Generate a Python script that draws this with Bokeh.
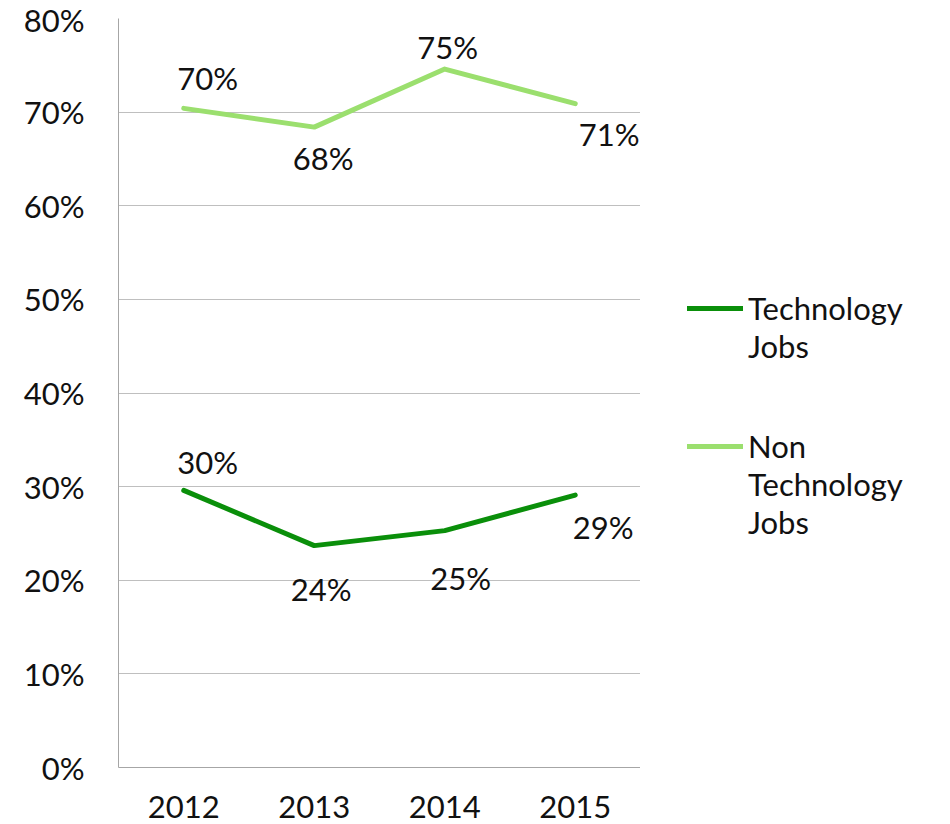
from bokeh.plotting import figure
from bokeh.layouts import row
from bokeh.models import ColumnDataSource, Legend, LegendItem, PrintfTickFormatter, FixedTicker, Range1d
from bokeh.core.properties import value
from bokeh.embed import file_html
from bokeh.resources import INLINE

years = ["2012", "2013", "2014", "2015"]
tech_jobs = [29.6, 23.7, 25.3, 29.1]
non_tech_jobs = [70.4, 68.4, 74.6, 70.9]
y_ticks = [0, 10, 20, 30, 40, 50, 60, 70, 80]
series_names = [["Technology", "Jobs"], ["Non", "Technology", "Jobs"]]

FONT = "Lato"
FS = "31px"
DARK = "#0a8f0a"
LIGHT = "#9bdf6e"
GRID = "#bfbfbf"
TXT = "#111111"

# label offsets (screen px) for each data label
tech_dx = [24, 7, 16, 28]
tech_dy = [-28, 43, 47, 32]
non_dx = [24, 9, 3, 34]
non_dy = [-30, 31, -22, 30]

p = figure(x_range=years, y_range=Range1d(0, 80), frame_width=522, frame_height=749,
           output_backend="svg", toolbar_location=None,
           min_border_left=118, min_border_right=0, min_border_top=18, min_border_bottom=57)
p.outline_line_color = None
p.background_fill_color = "white"
p.border_fill_color = "white"

def labels(vals):
    return [f"{round(v)}%" for v in vals]

src_t = ColumnDataSource(dict(x=years, y=tech_jobs, t=labels(tech_jobs), dx=tech_dx, dy=tech_dy))
src_n = ColumnDataSource(dict(x=years, y=non_tech_jobs, t=labels(non_tech_jobs), dx=non_dx, dy=non_dy))

p.line("x", "y", source=src_t, line_color=DARK, line_width=5, line_cap="round", line_join="round")
p.line("x", "y", source=src_n, line_color=LIGHT, line_width=5, line_cap="round", line_join="round")

for s in (src_t, src_n):
    p.text("x", "y", text="t", source=s, x_offset="dx", y_offset="dy",
           text_font=value(FONT), text_font_size=FS, text_color=TXT,
           text_align="center", text_baseline="middle")

p.yaxis.ticker = FixedTicker(ticks=y_ticks)
p.yaxis.formatter = PrintfTickFormatter(format="%d%%")
for ax in (p.xaxis[0], p.yaxis[0]):
    ax.axis_line_color = "#a6a6a6"
    ax.major_tick_line_color = None
    ax.minor_tick_line_color = None
    ax.major_label_text_font = FONT
    ax.major_label_text_font_size = FS
    ax.major_label_text_color = TXT
p.yaxis.major_label_standoff = 28
p.xaxis.major_label_standoff = 22
p.xgrid.grid_line_color = None
p.ygrid.grid_line_color = GRID
p.ygrid.grid_line_width = 1

# legend panel to the right of the chart (swatch renderers sit outside its visible range)
lg = figure(width=310, height=824, x_range=(0, 1), y_range=(0, 1),
            output_backend="svg", toolbar_location=None, min_border=0)
lg.outline_line_color = None
lg.axis.visible = False
lg.grid.visible = False
off = dict(x=[-5, -4], y=[-5, -4])
lg_t = lg.line(source=ColumnDataSource(off), line_color=DARK, line_width=5, line_cap="round")
lg_n = lg.line(source=ColumnDataSource(off), line_color=LIGHT, line_width=5, line_cap="round")
lg_blank = lg.line(source=ColumnDataSource(off), line_alpha=0)

def make_legend(words, rend, loc):
    items = [LegendItem(label=w, renderers=[rend if i == 0 else lg_blank]) for i, w in enumerate(words)]
    return Legend(items=items, location=loc, border_line_color=None, background_fill_alpha=0,
                  label_text_font=FONT, label_text_font_size=FS, label_text_color=TXT,
                  glyph_width=56, glyph_height=20, label_standoff=5, spacing=0, padding=0,
                  label_height=38, margin=0)

lg.add_layout(make_legend(series_names[0], lg_t, (47, 402)))
lg.add_layout(make_legend(series_names[1], lg_n, (47, 226)))

layout = row(p, lg, spacing=0)
open("out.html", "w").write(file_html(layout, INLINE))
